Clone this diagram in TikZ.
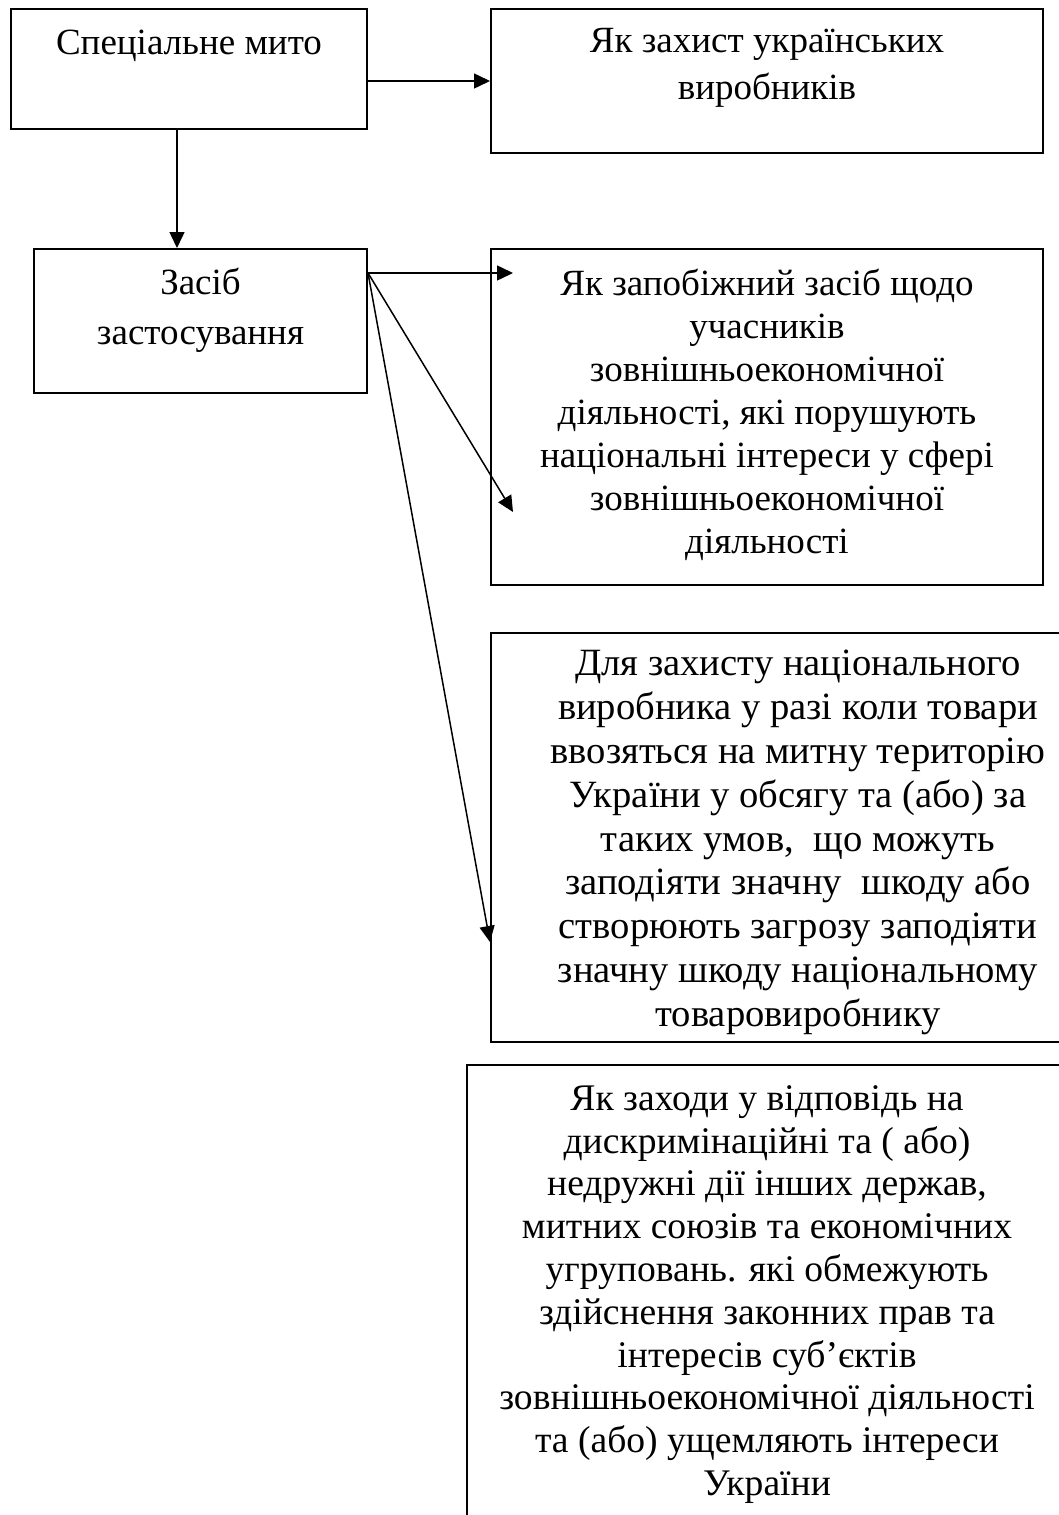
\documentclass[tikz,border=0pt]{standalone}
\usepackage{fontspec}
\setmainfont{Liberation Serif}
\usetikzlibrary{arrows.meta}

\begin{document}
\begin{tikzpicture}[x=0.5pt, y=-0.5pt,
  blok/.style = {draw, line width=1pt, anchor=north west, inner sep=0pt},
  napys/.style = {anchor=north, inner sep=0pt, align=center, font=\fontsize{18.5}{21.5}\selectfont},
  strilka/.style = {line width=0.75pt, -{Triangle[length=8pt, width=7.5pt]}},
  ]
  \useasboundingbox (0,0) rectangle (1059,1515);
  \clip (0,0) rectangle (1059,1515);

  \node[blok, minimum width=178pt, minimum height=60pt] (mito) at (10,8) {};
  \node[blok, minimum width=276pt, minimum height=72pt] (zakhyst) at (490,8) {};
  \node[blok, minimum width=166.5pt, minimum height=72pt] (zasib) at (33,248) {};
  \node[blok, minimum width=276pt, minimum height=168pt] (zapobizh) at (490,248) {};
  \node[blok, minimum width=307pt, minimum height=204.5pt] (vyrobnyk) at (490,632) {};
  \node[blok, minimum width=300pt, minimum height=250pt] (zakhody) at (466,1064) {};

  \node[napys] (mito-t) at ([yshift=-11pt]mito.north) {Спеціальне мито};
  \node[napys, font=\fontsize{18.5}{23.5}\selectfont] (zakhyst-t) at ([yshift=-10pt]zakhyst.north)
    {Як захист українських\\виробників};
  \node[napys, font=\fontsize{18.5}{25}\selectfont] (zasib-t) at ([yshift=-10pt]zasib.north)
    {Засіб\\застосування};
  \node[napys] (zapobizh-t) at ([yshift=-10.5pt]zapobizh.north)
    {Як запобіжний засіб щодо\\учасників\\зовнішньоекономічної\\діяльності, які порушують\\національні інтереси у сфері\\зовнішньоекономічної\\діяльності};
  \node[napys, font=\fontsize{19.3}{21.9}\selectfont] (vyrobnyk-t) at ([yshift=-9pt]vyrobnyk.north)
    {Для захисту національного\\виробника у разі коли товари\\ввозяться на митну територію\\України у обсягу та (або) за\\таких умов,~ що можуть\\заподіяти значну~ шкоду або\\створюють загрозу заподіяти\\значну шкоду національному\\товаровиробнику};
  \node[napys, font=\fontsize{18.8}{21.4}\selectfont] (zakhody-t) at ([yshift=-10.5pt]zakhody.north)
    {Як заходи у відповідь на\\дискримінаційні та ( або)\\недружні дії інших держав,\\митних союзів та економічних\\угруповань. які обмежують\\здійснення законних прав та\\інтересів суб’єктів\\зовнішньоекономічної діяльності\\та (або) ущемляють інтереси\\України};

  \coordinate (vyhid) at ([yshift=-12.5pt]zasib.north east);
  \coordinate (k1) at (513,273);
  \coordinate (k2) at (513,512);
  \coordinate (k3) at (490,942);

  \draw[strilka] ([xshift=-6pt]mito.south) -- ([xshift=-6pt]mito.south |- zasib.north);
  \draw[strilka] (mito.east |- zakhyst.west) -- (zakhyst.west);
  \draw[strilka] (vyhid) -- (k1);
  \draw[strilka] (vyhid) -- (k2);
  \draw[strilka] (vyhid) -- (k3);
\end{tikzpicture}
\end{document}
